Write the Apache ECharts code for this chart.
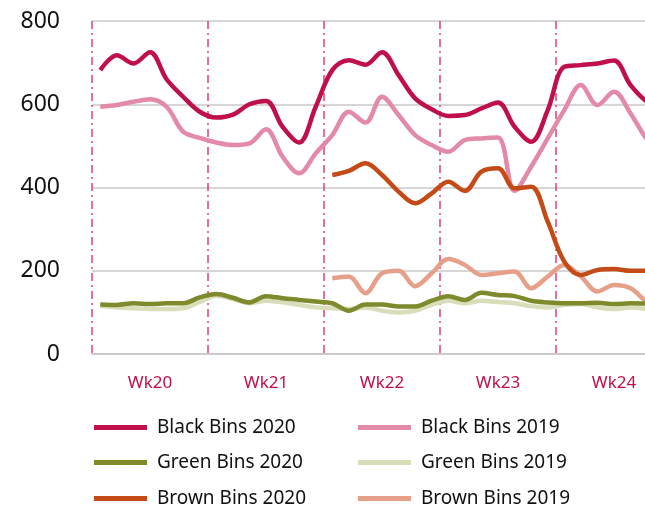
<!DOCTYPE html>
<html>
<head>
<meta charset="utf-8">
<style>
  html, body { margin: 0; padding: 0; background: #fff; }
  #chart { width: 645px; height: 510px; }
</style>
<script src="https://cdn.jsdelivr.net/npm/echarts@6/dist/echarts.min.js"></script>
</head>
<body>
<div id="chart"></div>
<script>
// Daily bin counts, 7 days per week
const weeks = ['Wk20', 'Wk21', 'Wk22', 'Wk23', 'Wk24'];
const days = [];
weeks.forEach(w => { for (let d = 1; d <= 7; d++) days.push(w + ' D' + d); });

const blackBins2020 = [682, 718, 698, 725, 660, 618, 582, 568, 575, 600, 608, 546, 508, 594,
                       682, 706, 695, 725, 670, 614, 588, 572, 574, 590, 604, 546, 510, 586,
                       690, 694, 698, 705, 646, 606, 590];
const blackBins2019 = [594, 598, 606, 612, 594, 534, 519, 508, 502, 506, 540, 474, 434, 482,
                       526, 582, 556, 618, 574, 526, 502, 486, 514, 518, 520, 392, 450, 518,
                       586, 646, 598, 630, 578, 515, 480];
const greenBins2020 = [119, 118, 122, 120, 122, 122, 136, 144, 135, 124, 139, 134, 130, 126,
                       122, 104, 119, 119, 114, 114, 128, 139, 130, 147, 142, 139, 128, 124,
                       122, 122, 123, 120, 122, 121, 120];
const greenBins2019 = [115, 112, 110, 108, 108, 110, 125, 140, 132, 122, 128, 124, 118, 112,
                       110, 108, 112, 104, 100, 104, 118, 128, 122, 128, 125, 122, 115, 112,
                       118, 120, 112, 108, 112, 108, 105];
const brownBins2020 = [null, null, null, null, null, null, null, null, null, null, null, null, null, null,
                       430, 440, 458, 430, 390, 362, 386, 414, 392, 438, 446, 398, 402, 318,
                       222, 190, 202, 204, 200, 200, 200];
const brownBins2019 = [null, null, null, null, null, null, null, null, null, null, null, null, null, null,
                       182, 186, 146, 194, 200, 163, 194, 228, 214, 190, 194, 198, 158, 186,
                       214, 186, 150, 166, 158, 125, 110];
const yTicks = [0, 200, 400, 600, 800];

const seriesDefs = [
  { name: 'Black Bins 2020', data: blackBins2020, color: '#C0104A' },
  { name: 'Black Bins 2019', data: blackBins2019, color: '#E38AA6' },
  { name: 'Green Bins 2020', data: greenBins2020, color: '#7E8A2C' },
  { name: 'Green Bins 2019', data: greenBins2019, color: '#D9DDB9' },
  { name: 'Brown Bins 2020', data: brownBins2020, color: '#C44A17' },
  { name: 'Brown Bins 2019', data: brownBins2019, color: '#E6A08A' }
];
// draw 2019 lines underneath the 2020 lines
const drawOrder = [3, 1, 5, 2, 0, 4];

const font = '"Noto Sans", "DejaVu Sans", sans-serif';

const legendPos = [
  { left: 94, top: 418 }, { left: 358, top: 418 },
  { left: 94, top: 453 }, { left: 358, top: 453 },
  { left: 94, top: 489 }, { left: 358, top: 489 }
];

const chart = echarts.init(document.getElementById('chart'), null, { renderer: 'canvas' });
chart.setOption({
  animation: false,
  backgroundColor: '#ffffff',
  // the plot area runs on past the right edge of the page
  grid: { left: 92, width: 580, top: 21, bottom: 156, containLabel: false, outerBoundsMode: 'none' },
  legend: seriesDefs.map((s, i) => ({
    data: [s.name],
    left: legendPos[i].left,
    top: legendPos[i].top,
    icon: 'rect',
    itemWidth: 53,
    itemHeight: 5,
    itemGap: 0,
    padding: 0,
    textStyle: { fontFamily: font, fontSize: 19, color: '#111', padding: [0, 0, 0, 5] }
  })),
  xAxis: {
    type: 'category',
    data: days,
    boundaryGap: true,
    axisLine: { show: true, lineStyle: { color: '#C8C8C8', width: 1.5 } },
    axisTick: { show: false },
    axisLabel: {
      interval: (idx) => idx % 7 === 3,
      formatter: (v) => v.split(' ')[0],
      color: '#C0104A',
      fontFamily: font,
      fontSize: 17,
      margin: 21
    },
    splitLine: {
      show: true,
      interval: (idx) => idx % 7 === 0,
      lineStyle: { color: '#D8417A', width: 1.5, type: [8, 4, 2, 4] }
    }
  },
  yAxis: {
    type: 'value',
    min: yTicks[0],
    max: yTicks[yTicks.length - 1],
    interval: 200,
    axisLine: { show: false },
    axisTick: { show: false },
    axisLabel: { color: '#111', fontFamily: font, fontSize: 23, margin: 32 },
    splitLine: { lineStyle: { color: '#C8C8C8', width: 1.5 } }
  },
  series: drawOrder.map(i => {
    const s = seriesDefs[i];
    return {
      name: s.name,
      type: 'line',
      data: s.data,
      smooth: 0.35,
      showSymbol: false,
      symbol: 'none',
      connectNulls: false,
      color: s.color,
      lineStyle: { color: s.color, width: 4.5 },
      z: i % 2 === 0 ? 3 : 2
    };
  })
});
</script>
</body>
</html>
